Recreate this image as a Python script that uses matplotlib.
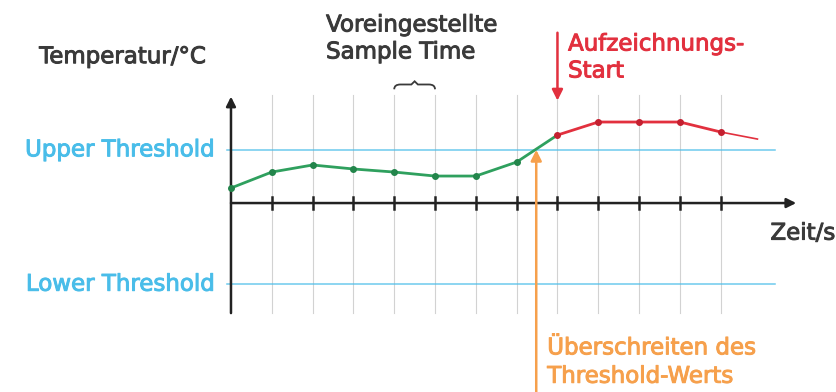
import matplotlib
matplotlib.use("Agg")
import matplotlib.pyplot as plt
import matplotlib.patheffects as pe
from matplotlib.path import Path
from matplotlib.patches import PathPatch

# sample times (sample index) and temperatures (arbitrary units)
times_pre = [0, 1, 2, 3, 4, 5, 6, 7, 8]
temps_pre = [1.13, 2.33, 2.86, 2.56, 2.33, 2.03, 2.03, 3.08, 5.11]
times_rec = [8, 9, 10, 11, 12]
temps_rec = [5.11, 6.09, 6.09, 6.09, 5.34]
tail_t = [12, 12.9]
tail_y = [5.34, 4.81]

upper_threshold = 4.0
lower_threshold = -6.1
crossing_t = 7.48
record_start_t = 8
tick_times = list(range(1, 13))

GREEN = "#2fa05e"
RED = "#e2303e"
BLUE = "#49bde9"
ORANGE = "#f6a04c"
DARK = "#3a3a3a"

fig = plt.figure(figsize=(8.37, 3.92), dpi=100)
ax = fig.add_axes([0, 0, 1, 1])
ax.set_xlim(-5.66, 14.85)
ax.set_ylim(-14.2, 15.26)
ax.axis("off")

# vertical grid lines
for t in tick_times:
    ax.plot([t, t], [-8.27, 8.1], color="#d2d2d2", lw=0.8, zorder=1)

# thresholds
for thr in (upper_threshold, lower_threshold):
    ax.plot([-0.1, 13.33], [thr, thr], color=BLUE, lw=1.1, alpha=0.8, zorder=2)

# axes with arrows
ax.annotate("", xy=(13.85, 0), xytext=(0, 0),
            arrowprops=dict(arrowstyle="-|>", color="#222222", lw=1.8,
                            mutation_scale=14, shrinkA=0, shrinkB=0), zorder=3)
ax.annotate("", xy=(0, 8.0), xytext=(0, -8.27),
            arrowprops=dict(arrowstyle="-|>", color="#222222", lw=1.8,
                            mutation_scale=14, shrinkA=0, shrinkB=0), zorder=3)
for t in tick_times:
    ax.plot([t, t], [-0.45, 0.45], color="#222222", lw=1.8, zorder=3)

# temperature curve
ax.plot(times_pre, temps_pre, color=GREEN, lw=2, zorder=4)
ax.plot(times_pre[:-1], temps_pre[:-1], "o", color="#23854b", ms=4, zorder=5)
ax.plot(times_rec, temps_rec, color=RED, lw=2, zorder=4)
ax.plot(times_rec, temps_rec, "o", color="#c42030", ms=4, zorder=5)
ax.plot(tail_t, tail_y, color=RED, lw=1.2, zorder=4)

# threshold crossing arrow
ax.annotate("", xy=(crossing_t, upper_threshold), xytext=(crossing_t, -14.3),
            arrowprops=dict(arrowstyle="-|>", color=ORANGE, lw=1.8,
                            mutation_scale=16, shrinkA=0, shrinkB=0), zorder=6)
# recording start arrow
ax.annotate("", xy=(record_start_t, 7.7), xytext=(record_start_t, 12.8),
            arrowprops=dict(arrowstyle="-|>", color=RED, lw=1.8,
                            mutation_scale=16, shrinkA=0, shrinkB=0), zorder=6)

# brace over one sample interval
x0, x1, yb, h = 4.0, 5.0, 8.55, 0.6
xm = (x0 + x1) / 2
verts = [(x0, yb), (x0, yb + h * 0.6), (x0 + 0.15, yb + h * 0.6),
         (xm - 0.08, yb + h * 0.6), (xm, yb + h),
         (xm + 0.08, yb + h * 0.6), (x1 - 0.15, yb + h * 0.6),
         (x1, yb + h * 0.6), (x1, yb)]
codes = [Path.MOVETO, Path.CURVE3, Path.CURVE3, Path.LINETO,
         Path.LINETO, Path.LINETO, Path.LINETO, Path.CURVE3, Path.CURVE3]
ax.add_patch(PathPatch(Path(verts, codes), fill=False, ec=DARK, lw=1.3))


def label(x, y, s, color, ha="left", ls=1.22):
    t = ax.text(x, y, s, color=color, fontsize=16.5, family="DejaVu Sans",
                ha=ha, va="center", linespacing=ls)
    t.set_path_effects([pe.withStroke(linewidth=0.7, foreground=color)])
    return t


label(-4.7, 11.0, "Temperatur/°C", DARK)
label(2.33, 12.37, "Voreingestellte\nSample Time", DARK)
label(8.26, 10.94, "Aufzeichnungs-\nStart", RED)
label(-0.39, upper_threshold, "Upper Threshold", BLUE, ha="right")
label(-0.39, lower_threshold, "Lower Threshold", BLUE, ha="right")
label(14.8, -2.26, "Zeit/s", DARK, ha="right")
label(7.75, -11.95, "Überschreiten des\nThreshold-Werts", ORANGE, ls=1.3)

fig.savefig("out.png", dpi=100)
